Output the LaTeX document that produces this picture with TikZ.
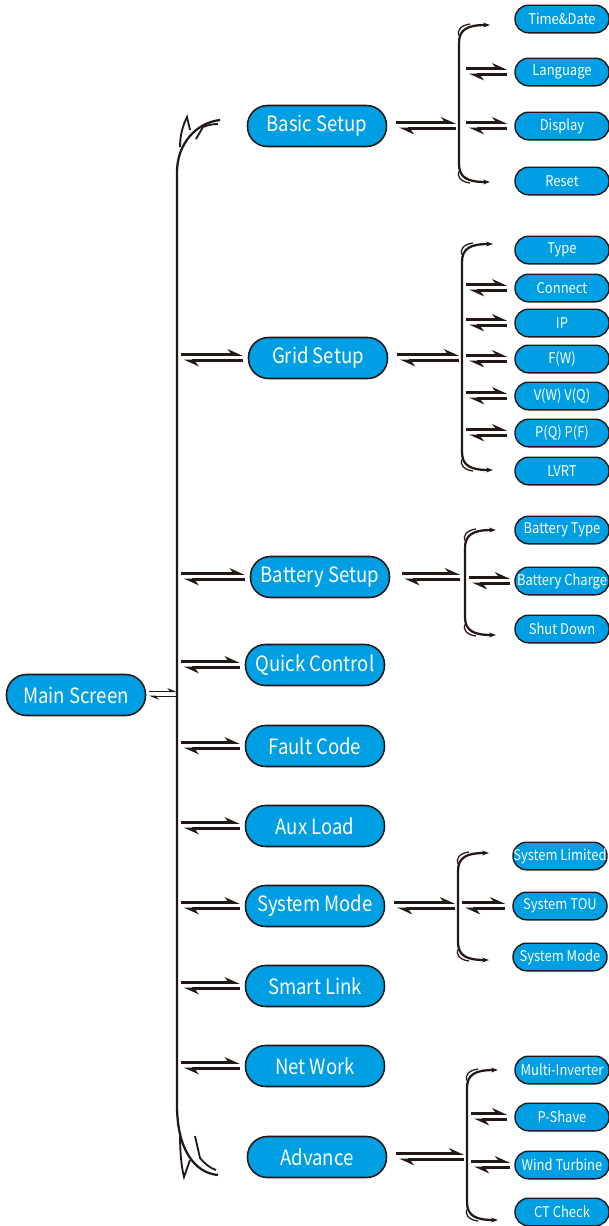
\documentclass[tikz,border=0pt]{standalone}
\usepackage{fontspec}
\newfontfamily\hanfont[FakeStretch=0.88]{Noto Sans CJK SC}
\usetikzlibrary{arrows.meta,positioning}
\definecolor{Sky}{HTML}{009FE3}
\definecolor{Ink}{HTML}{231815}
% two-way harpoon pair between two points at the same height
\newcommand{\harps}[3][]{%
  \draw[harpup,#1] ([yshift=2.3pt]#2) -- ([yshift=2.3pt]#3);
  \draw[harpdn,#1] ([yshift=-1.9pt,xshift=2pt]#2) -- ([yshift=-1.9pt]#3);}
% side bracket from top end to bottom end
\newcommand{\sidebrace}[2]{%
  \draw[brace] (#1) .. controls +(-22,0) and +(0,-14) .. ++(-31,18)
    -- ([shift={(-31,-18)}]#2) .. controls +(0,14) and +(-22,0) .. (#2);
  \draw[fine] ([shift={(-30,12)}]#1) .. controls +(-5,-7) and +(-8,1) .. ([shift={(-20,-1)}]#1);
  \draw[fine] ([shift={(-30,-12)}]#2) .. controls +(-5,7) and +(-8,-1) .. ([shift={(-20,1)}]#2);}

\begin{document}
\begin{tikzpicture}[x=0.025cm,y=-0.025cm,
  boxbig/.style={draw=Ink,fill=Sky,line width=1.1pt,rounded corners=0.5cm,minimum width=3.475cm,minimum height=1.025cm,inner sep=0pt,text=white,font=\hanfont\fontsize{15}{18}\selectfont},
  boxsmall/.style={draw=Ink,fill=Sky,line width=1pt,rounded corners=0.34cm,minimum width=2.35cm,minimum height=0.69cm,inner sep=0pt,text=white,font=\hanfont\fontsize{10.5}{12}\selectfont},
  harpup/.style={-{Stealth[left,length=9pt,width=8pt,inset=3pt]},line width=1.9pt,draw=Ink},
  harpdn/.style={{Stealth[left,length=9pt,width=8pt,inset=3pt]}-,line width=1.9pt,draw=Ink},
  brace/.style={{Stealth[length=5pt,width=3.5pt]}-{Stealth[length=5pt,width=3.5pt]},line width=1.6pt,draw=Ink},
  fine/.style={line width=0.9pt,draw=Ink}
]
\useasboundingbox (0,0) rectangle (609,1226);

% main screen and first level
\node[boxbig] (main) at (76,695) {Main Screen};
\node[boxbig] (basic) at (317,126) {Basic Setup};
\node[boxbig] (grid) at (318,358) {Grid Setup};
\node[boxbig] (battery) at (320,577) {Battery Setup};
\node[boxbig] (quick) at (315,665) {Quick Control};
\node[boxbig] (fault) at (315,746) {Fault Code};
\node[boxbig] (aux) at (315,826) {Aux Load};
\node[boxbig] (sysmode) at (315,906) {System Mode};
\node[boxbig] (smart) at (315,986) {Smart Link};
\node[boxbig] (net) at (315,1066) {Net Work};
\node[boxbig] (advance) at (317,1157) {Advance};

% second level
\node[boxsmall] (time) at (562,19) {Time\&Date};
\node[boxsmall] (lang) at (562,72) {Language};
\node[boxsmall] (disp) at (562,126) {Display};
\node[boxsmall] (reset) at (562,181) {Reset};
\node[boxsmall] (type) at (562,250) {Type};
\node[boxsmall] (conn) at (562,288) {Connect};
\node[boxsmall] (ip) at (562,323) {IP};
\node[boxsmall] (fw) at (562,359) {F(W)};
\node[boxsmall] (vwvq) at (562,396) {V(W) V(Q)};
\node[boxsmall] (pqpf) at (562,433) {P(Q) P(F)};
\node[boxsmall] (lvrt) at (562,471) {LVRT};
\node[boxsmall] (battype) at (562,530) {Battery Type};
\node[boxsmall] (batchg) at (562,581) {Battery Charge};
\node[boxsmall] (shut) at (562,629) {Shut Down};
\node[boxsmall] (syslim) at (560,856) {System Limited};
\node[boxsmall] (systou) at (560,906) {System TOU};
\node[boxsmall] (sysmd) at (560,957) {System Mode};
\node[boxsmall] (multi) at (562,1070) {Multi-Inverter};
\node[boxsmall] (pshave) at (562,1117) {P-Shave};
\node[boxsmall] (wind) at (562,1165) {Wind Turbine};
\node[boxsmall] (ctcheck) at (562,1212) {CT Check};

% bars
\coordinate (mainbar) at (177,695);
\coordinate (mtop) at (220,120);
\coordinate (mbot) at (218,1175);
\coordinate (bsbar) at (459,126);
\coordinate (bsT) at (490,25);
\coordinate (bsB) at (490,182);
\coordinate (gdbar) at (462,358);
\coordinate (gdT) at (493,244);
\coordinate (gdB) at (493,470);
\coordinate (btbar) at (465,577);
\coordinate (btT) at (496,530);
\coordinate (btB) at (496,635);
\coordinate (smbar) at (458,906);
\coordinate (smT) at (489,853);
\coordinate (smB) at (489,960);
\coordinate (adbar) at (467,1157);
\coordinate (adT) at (498,1070);
\coordinate (adB) at (498,1220);

% main bar with its end flourishes
\draw[brace,-] (mtop) .. controls (195,123) and (177,145) .. (177,172)
  -- (177,1105) .. controls (177,1150) and (195,1173) .. (mbot);
\draw[fine,line width=1.3pt] (180,147) .. controls (180,135) and (183,125) .. (187,117) -- (190,130);
\draw[fine,line width=1.3pt] (196,139) -- (203,127) .. controls (208,125) and (213,124) .. (218,124);
\draw[fine,line width=1.3pt] (180,1133) .. controls (180,1150) and (181,1165) .. (184,1177) -- (190,1160);
\draw[fine,line width=1.3pt] (195,1136) -- (200,1158) .. controls (205,1164) and (210,1168) .. (216,1170);

\sidebrace{bsT}{bsB}
\sidebrace{gdT}{gdB}
\sidebrace{btT}{btB}
\sidebrace{smT}{smB}
\sidebrace{adT}{adB}

% main screen to bar
\draw[-{Stealth[left,length=6pt,width=5pt,inset=2pt]},line width=0.7pt,draw=Ink] ([yshift=2.4pt]main.east) ++(2pt,0) -- ([yshift=2.4pt]mainbar);
\draw[{Stealth[left,length=6pt,width=5pt,inset=2pt]}-,line width=0.7pt,draw=Ink] ([yshift=-0.8pt]main.east) ++(2pt,0) -- ([yshift=-0.8pt]mainbar);

% bar to first level
\harps[shorten <=2.8pt,shorten >=3.6pt]{mainbar |- grid}{grid.west}
\harps[shorten <=2.8pt,shorten >=3.6pt]{mainbar |- battery}{battery.west}
\harps[shorten <=2.8pt,shorten >=3.6pt]{mainbar |- quick}{quick.west}
\harps[shorten <=2.8pt,shorten >=3.6pt]{mainbar |- fault}{fault.west}
\harps[shorten <=2.8pt,shorten >=3.6pt]{mainbar |- aux}{aux.west}
\harps[shorten <=2.8pt,shorten >=3.6pt]{mainbar |- sysmode}{sysmode.west}
\harps[shorten <=2.8pt,shorten >=3.6pt]{mainbar |- smart}{smart.west}
\harps[shorten <=2.8pt,shorten >=3.6pt]{mainbar |- net}{net.west}

% first level to brackets
\harps[shorten <=6.4pt,shorten >=2.1pt]{basic.east}{bsbar}
\harps[shorten <=6.4pt,shorten >=2.1pt]{grid.east}{gdbar}
\harps[shorten <=8pt,shorten >=3.5pt]{battery.east}{btbar}
\harps[shorten <=6.4pt,shorten >=2.1pt]{sysmode.east}{smbar}
\harps[shorten <=6.4pt,shorten >=2.1pt]{advance.east}{adbar}

% brackets to second level
\harps[shorten <=5pt,shorten >=5pt]{bsbar |- lang}{lang.west}
\harps[shorten <=5pt,shorten >=5pt]{bsbar |- disp}{disp.west}
\harps[shorten <=3pt,shorten >=5pt]{gdbar |- conn}{conn.west}
\harps[shorten <=3pt,shorten >=5pt]{gdbar |- ip}{ip.west}
\harps[shorten <=3pt,shorten >=5pt]{gdbar |- fw}{fw.west}
\harps[shorten <=3pt,shorten >=5pt]{gdbar |- vwvq}{vwvq.west}
\harps[shorten <=3pt,shorten >=5pt]{gdbar |- pqpf}{pqpf.west}
\harps[shorten <=3pt,shorten >=3pt]{btbar |- batchg}{batchg.west}
\harps[shorten <=3pt,shorten >=5pt]{smbar |- systou}{systou.west}
\harps[shorten <=3pt,shorten >=5pt]{adbar |- pshave}{pshave.west}
\harps[shorten <=3pt,shorten >=3pt]{adbar |- wind}{wind.west}
\end{tikzpicture}
\end{document}
